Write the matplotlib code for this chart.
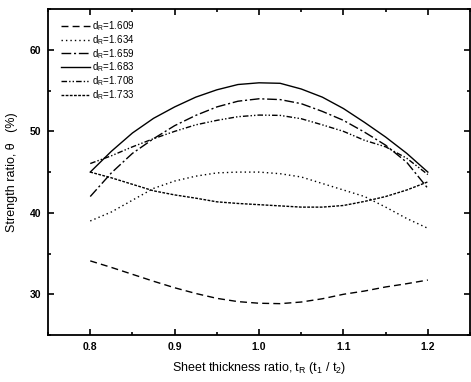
import matplotlib
matplotlib.use("Agg")
import matplotlib.pyplot as plt
from matplotlib.ticker import MultipleLocator

plt.rcParams['font.family'] = ['Liberation Sans', 'DejaVu Sans']

t_ratio = [0.800, 0.825, 0.850, 0.875, 0.900, 0.925, 0.950, 0.975, 1.000,
           1.025, 1.050, 1.075, 1.100, 1.125, 1.150, 1.175, 1.200]
labels = ["1.609", "1.634", "1.659", "1.683", "1.708", "1.733"]
s1609 = [34.1, 33.3, 32.45, 31.6, 30.8, 30.1, 29.5, 29.1, 28.9,
         28.85, 29.05, 29.45, 30.0, 30.4, 30.9, 31.3, 31.75]
s1634 = [39.0, 40.1, 41.55, 43.0, 43.9, 44.5, 44.9, 45.0, 45.0,
         44.8, 44.4, 43.6, 42.8, 42.0, 40.7, 39.3, 38.1]
s1659 = [42.0, 44.9, 47.3, 49.1, 50.7, 51.96, 53.0, 53.7, 54.0,
         53.9, 53.4, 52.45, 51.35, 49.9, 48.3, 46.2, 43.0]
s1683 = [45.0, 47.55, 49.8, 51.6, 53.0, 54.2, 55.1, 55.75, 55.96,
         55.9, 55.2, 54.2, 52.8, 51.1, 49.3, 47.3, 45.0]
s1708 = [46.05, 47.0, 48.1, 49.1, 50.0, 50.8, 51.35, 51.8, 52.0,
         51.96, 51.55, 50.8, 50.0, 48.9, 48.1, 46.7, 44.7]
s1733 = [45.0, 44.3, 43.5, 42.7, 42.2, 41.8, 41.35, 41.15, 41.0,
         40.85, 40.7, 40.7, 40.9, 41.4, 42.0, 42.8, 43.8]
series = [s1609, s1634, s1659, s1683, s1708, s1733]

styles = [(0, (5, 3)), (0, (1, 2.2)), (0, (7, 2, 1.5, 2)), '-',
          (0, (4, 1.5, 1, 1.5, 1, 1.5)), (0, (2, 1))]

fig = plt.figure(figsize=(4.71, 3.82), dpi=100)
ax = fig.add_axes([0.102, 0.123, 0.896, 0.853])

for lab, ys, ls in zip(labels, series, styles):
    ax.plot(t_ratio, ys, color='black', lw=1.0, linestyle=ls,
            label=r"d$_\mathregular{R}$=" + lab)

ax.set_xlim(0.75, 1.25)
ax.set_ylim(25, 65)
ax.xaxis.set_minor_locator(MultipleLocator(0.05))
ax.yaxis.set_minor_locator(MultipleLocator(5))
ax.tick_params(which='both', direction='in', top=True, right=True, width=1.2)
ax.tick_params(which='major', length=4, labelsize=7.5, pad=5)
ax.tick_params(which='minor', length=2.5)
ax.set_xticks([0.8, 0.9, 1.0, 1.1, 1.2])
ax.set_xticklabels(["0.8", "0.9", "1.0", "1.1", "1.2"], fontweight='bold')
ax.set_yticks([30, 40, 50, 60])
ax.set_yticklabels(["30", "40", "50", "60"], fontweight='bold')
for sp in ax.spines.values():
    sp.set_linewidth(1.3)

ax.set_xlabel(r"Sheet thickness ratio, t$_\mathregular{R}$ (t$_\mathregular{1}$ / t$_\mathregular{2}$)",
              fontsize=9, labelpad=6)
ax.set_ylabel("Strength ratio, θ   (%)", fontsize=9, labelpad=8)

ax.legend(loc='upper left', bbox_to_anchor=(0.015, 0.99), frameon=False,
          fontsize=7, handlelength=3.0, handletextpad=0.2, labelspacing=0.0,
          borderaxespad=0.3)

fig.savefig("out.png", dpi=100)
